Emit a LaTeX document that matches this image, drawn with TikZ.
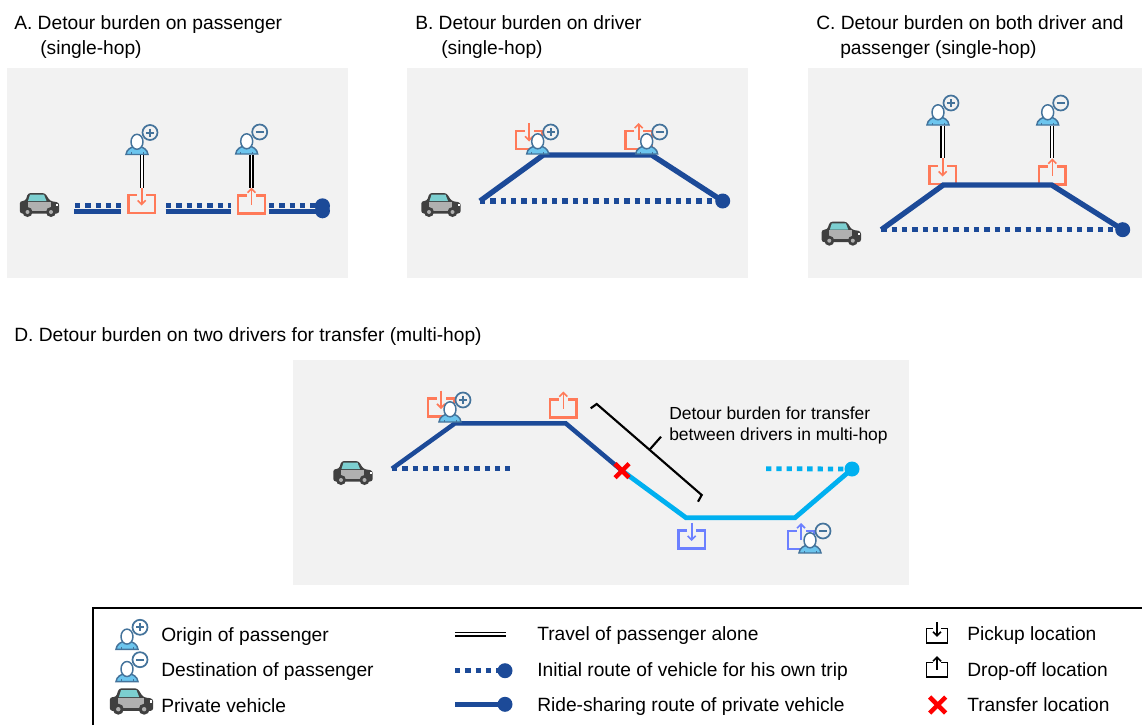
\documentclass[tikz,border=0pt]{standalone}
\usepackage{fontspec}
\setmainfont{Liberation Sans}
\usetikzlibrary{arrows.meta}
\definecolor{panelbg}{HTML}{F2F2F2}
\definecolor{routeblue}{HTML}{1C4A98}
\definecolor{skyblue}{HTML}{00B0F0}
\definecolor{boxorange}{HTML}{FF7A59}
\definecolor{boxblue}{HTML}{6C80FF}
\definecolor{personfill}{HTML}{6CC5EE}
\definecolor{personline}{HTML}{44739B}
\definecolor{cardark}{HTML}{404040}
\definecolor{cargray}{HTML}{B0B0B0}
\definecolor{carglass}{HTML}{7CCFD0}
\tikzset{
  x=0.75pt,y=-0.75pt,
  panel/.style={fill=panelbg,draw=none},
  titletext/.style={anchor=base west,font=\fontsize{14.4pt}{16pt}\selectfont,inner sep=0pt},
  legendtext/.style={anchor=base west,font=\fontsize{14.4pt}{16pt}\selectfont,inner sep=0pt},
  notetext/.style={anchor=base west,font=\fontsize{13.1pt}{15pt}\selectfont,inner sep=0pt},
  sharedroute/.style={draw=routeblue,line width=4pt,miter limit=10},
  ownroute/.style={draw=routeblue,line width=4pt,dash pattern=on 4pt off 3.73pt},
  skyroute/.style={draw=skyblue,line width=3.6pt},
  skyown/.style={draw=skyblue,line width=3.6pt,dash pattern=on 4pt off 3.73pt},
  alone/.style={draw=black,line width=1.1pt,double=white,double distance=1.3pt},
  orangebox/.style={color=boxorange,line width=1.7pt},
  bluebox/.style={color=boxblue,line width=1.7pt},
  blackbox/.style={color=black,line width=0.9pt,scale=0.8},
  bracketline/.style={draw=black,line width=1.6pt},
  pics/pickbox/.style={code={
    \draw (-4.5,0) -- (-13.2,0) -- (-13.2,18) -- (13.2,18) -- (13.2,0) -- (4.5,0);
    \draw[-{Straight Barb[length=3pt,width=6pt]},line width=1.2pt] (0,-8) -- (0,10.5);
  }},
  pics/dropbox/.style={code={
    \draw (-4.5,0) -- (-13.2,0) -- (-13.2,18) -- (13.2,18) -- (13.2,0) -- (4.5,0);
    \draw[-{Straight Barb[length=3pt,width=6pt]},line width=1.2pt] (0,9) -- (0,-8);
  }},
  pics/redcross/.style={code={
    \draw[red,line width=3.4pt] (-#1,-#1) -- (#1,#1) (-#1,#1) -- (#1,-#1);
  }},
  pics/person/.style 2 args={code={
    \fill[personfill,draw=personline,line width=1.1pt]
      (-11,0) .. controls (-10.5,-5) and (-6,-7.5) .. (-2,-8) -- (2,-8)
      .. controls (6,-7.5) and (10.5,-5) .. (11,0) -- cycle;
    \draw[personline,line width=0.6pt] (-6,0) -- (-6,-2.5) (6,0) -- (6,-2.5);
    \fill[white,draw=personline,line width=1.1pt] (0,-12.7) ellipse [x radius=6,y radius=7.5];
    \fill[#2,draw=personline,line width=1.3pt] (13,-22) circle [radius=7.5];
    \draw[personline,line width=1.5pt] (9,-22) -- (17,-22);
    \ifnum#1=1 \draw[personline,line width=1.5pt] (13,-26) -- (13,-18); \fi
  }},
  pics/car/.style={code={
    \fill[cardark,rounded corners=2pt] (-19.7,-4) -- (-14,-4) -- (-11.5,-12) -- (5.5,-12) -- (10.5,-4) -- (19.7,-2.5) -- (19.7,8.5) -- (-19.7,8.5) -- cycle;
    \fill[carglass] (-11.5,-4) -- (-9.5,-10.4) -- (4.5,-10.4) -- (7,-4) -- cycle;
    \fill[cargray] (-12,-3.5) -- (11,-3.5) -- (11,5.5) -- (-12,5.5) -- cycle;
    \fill[white] (16.5,-1) rectangle (18.5,1);
    \foreach \wx in {-12,11.5}{
      \fill[cardark] (\wx,7) circle [radius=5];
      \fill[cargray] (\wx,7) circle [radius=2];
    }
  }},
}
\begin{document}
\begin{tikzpicture}
\useasboundingbox (0,0) rectangle (1142,725);
\fill[white] (0,0) rectangle (1142,725);

% panels
\path[panel] (7,68) rectangle (348,278);
\path[panel] (407,68) rectangle (748,278);
\path[panel] (808,68) rectangle (1142,278);
\path[panel] (293,360) rectangle (909,585);

% titles
\node[titletext] (ta1) at (14,29) {A. Detour burden on passenger};
\node[titletext] (ta2) at (40,54) {(single-hop)};
\node[titletext] (tb1) at (415,29) {B. Detour burden on driver};
\node[titletext] (tb2) at (441,54) {(single-hop)};
\node[titletext] (tc1) at (816,29) {C. Detour burden on both driver and};
\node[titletext] (tc2) at (840,54) {passenger (single-hop)};
\node[titletext] (td1) at (14,341) {D. Detour burden on two drivers for transfer (multi-hop)};

% ---------- Panel A
\pic at (39.5,205) {car};
\coordinate (a1) at (75,205.3);  \coordinate (a2) at (121,205.3);
\coordinate (a3) at (166,205.3); \coordinate (a4) at (231,205.3);
\coordinate (a5) at (269,205.3); \coordinate (a6) at (322,205.3);
\coordinate (a1s) at (74,211.3);  \coordinate (a2s) at (121,211.3);
\coordinate (a3s) at (165.5,211.3); \coordinate (a4s) at (231,211.3);
\coordinate (a5s) at (269,211.3); \coordinate (a6s) at (322,211.3);
\draw[ownroute] (a1) -- (a2);
\draw[ownroute] (a3) -- (a4);
\draw[ownroute] (a5) -- (a6);
\draw[sharedroute] (a1s) -- (a2s);
\draw[sharedroute] (a3s) -- (a4s);
\draw[sharedroute] (a5s) -- (a6s);
\fill[routeblue] (322.5,205.8) circle [radius=7.5];
\fill[routeblue] (322.5,210.8) circle [radius=7.5];
\pic[orangebox] at (141.7,195) {pickbox};
\pic[orangebox] at (251.5,195.5) {dropbox};
\pic at (137,154.5) {person={1}{panelbg}};
\pic at (246.7,154) {person={0}{panelbg}};
\coordinate (apu) at (142,155); \coordinate (apd) at (142,188);
\coordinate (adu) at (251.5,155); \coordinate (add) at (251.5,188);
\draw[alone] (apu) -- (apd);
\draw[alone] (adu) -- (add);

% ---------- Panel B
\pic at (441,205) {car};
\coordinate (b1) at (480,201); \coordinate (b2) at (543.3,155);
\coordinate (b3) at (651.7,155); \coordinate (b4) at (722.7,201);
\pic[orangebox] at (529,131) {pickbox};
\pic[orangebox] at (638.7,131) {dropbox};
\draw[ownroute] (b1) -- (b4);
\draw[sharedroute] (b1) -- (b2) -- (b3) -- (b4);
\fill[routeblue] (b4) circle [radius=7.5];
\pic at (537.7,154) {person={1}{panelbg}};
\pic at (646.7,154) {person={0}{panelbg}};

% ---------- Panel C
\pic at (841.3,233.7) {car};
\coordinate (c1) at (881.3,229.7); \coordinate (c2) at (943.3,185);
\coordinate (c3) at (1051.7,185); \coordinate (c4) at (1122.7,229.7);
\pic[orangebox] at (942.7,166) {pickbox};
\pic[orangebox] at (1052.3,166.5) {dropbox};
\draw[ownroute] (c1) -- (c4);
\draw[sharedroute] (c1) -- (c2) -- (c3) -- (c4);
\fill[routeblue] (c4) circle [radius=7.5];
\pic at (938,125) {person={1}{panelbg}};
\pic at (1047.7,125) {person={0}{panelbg}};
\coordinate (cpu) at (942.7,125.5); \coordinate (cpd) at (942.7,158);
\coordinate (cdu) at (1052,125.5); \coordinate (cdd) at (1052,158);
\draw[alone] (cpu) -- (cpd);
\draw[alone] (cdu) -- (cdd);

% ---------- Panel D
\pic at (353,473) {car};
\coordinate (d1) at (392,468.7); \coordinate (d2) at (455,423.3);
\coordinate (d3) at (565.7,423.3); \coordinate (dx) at (622,470.7);
\coordinate (d4) at (686,517.7); \coordinate (d5) at (795,517.7);
\coordinate (d6) at (852,469); \coordinate (d0) at (510,468.7);
\coordinate (d7) at (766,468.7);
\pic[orangebox] at (441,398.5) {pickbox};
\pic[orangebox] at (563.3,399.5) {dropbox};
\pic[bluebox] at (691.7,530.5) {pickbox};
\pic[bluebox] at (801,531) {dropbox};
\draw[ownroute] (d1) -- (d0);
\draw[sharedroute,line width=3.4pt] (d1) -- (d2) -- (d3) -- (dx);
\draw[skyroute] (dx) -- (d4) -- (d5) -- (d6);
\draw[skyown] (d7) -- (d6);
\fill[skyblue] (d6) circle [radius=7.5];
\pic at (dx) {redcross=7};
\pic at (450,422) {person={1}{panelbg}};
\pic at (810,553) {person={0}{panelbg}};
\coordinate (bra1) at (590.7,408.3); \coordinate (bra2) at (596.7,404);
\coordinate (bra3) at (701.7,495); \coordinate (bra4) at (698,501.7);
\coordinate (brs1) at (649.3,450); \coordinate (brs2) at (661,436.7);
\draw[bracketline] (bra1) -- (bra2) -- (bra3) -- (bra4);
\draw[bracketline] (brs1) -- (brs2);
\node[notetext] (note1) at (669,419) {Detour burden for transfer};
\node[notetext] (note2) at (669,440) {between drivers in multi-hop};

% ---------- Legend
\coordinate (la) at (93,725); \coordinate (lb) at (93,608); \coordinate (lc) at (1142,608);
\draw[black,line width=1.5pt] (la) -- (lb) -- (lc);
\pic at (127,649.3) {person={1}{white}};
\pic at (127,681.7) {person={0}{white}};
\pic[scale=1.1] at (131.5,701.5) {car};
\node[legendtext] (l1) at (161,641) {Origin of passenger};
\node[legendtext] (l2) at (161,676) {Destination of passenger};
\node[legendtext] (l3) at (161,712) {Private vehicle};
\coordinate (m1) at (455,634.3); \coordinate (m2) at (505.7,634.3);
\coordinate (m3) at (455,670.7); \coordinate (m4) at (505,670.7);
\coordinate (m5) at (455,704.3); \coordinate (m6) at (505,704.3);
\draw[alone] (m1) -- (m2);
\draw[ownroute] (m3) -- (m4);
\fill[routeblue] (m4) circle [radius=7.5];
\draw[sharedroute] (m5) -- (m6);
\fill[routeblue] (m6) circle [radius=7.5];
\node[legendtext] (l4) at (537,640) {Travel of passenger alone};
\node[legendtext] (l5) at (537,676) {Initial route of vehicle for his own trip};
\node[legendtext] (l6) at (537,711) {Ride-sharing route of private vehicle};
\pic[blackbox] at (937,628.5) {pickbox};
\pic[blackbox] at (937,662.5) {dropbox};
\pic at (937.7,705) {redcross=8};
\node[legendtext] (l7) at (967,640) {Pickup location};
\node[legendtext] (l8) at (967,676) {Drop-off location};
\node[legendtext] (l9) at (967,711) {Transfer location};
\end{tikzpicture}
\end{document}
